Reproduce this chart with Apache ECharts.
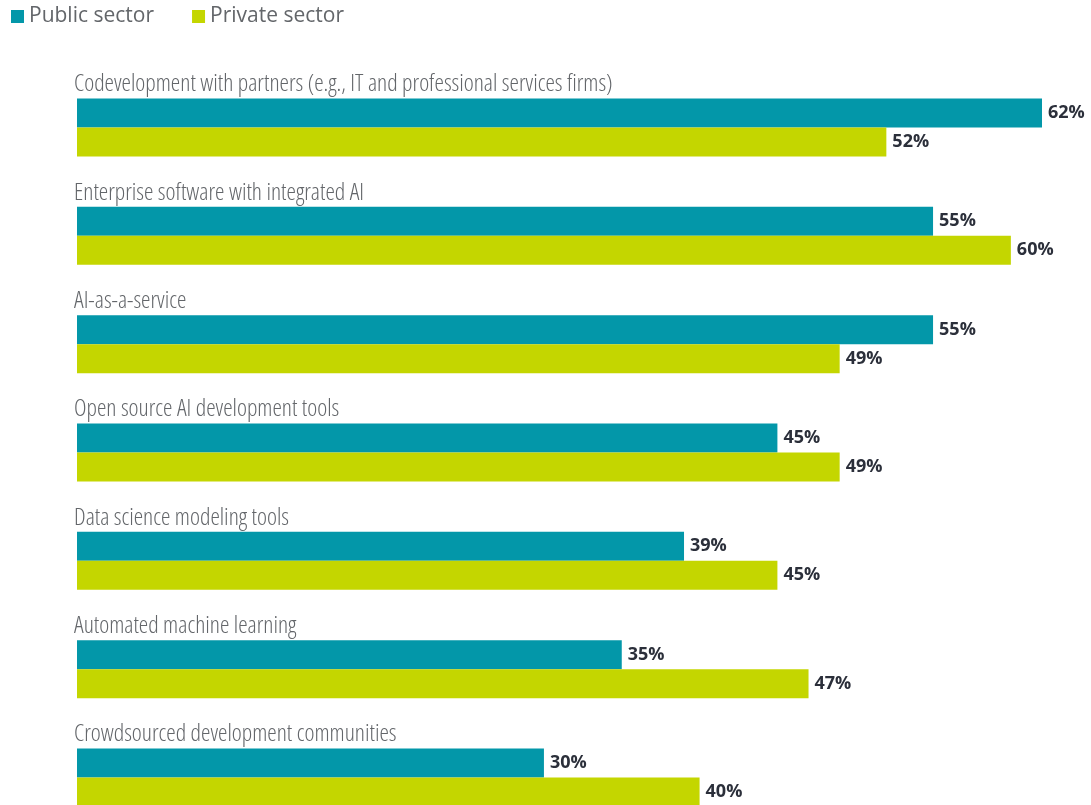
<!DOCTYPE html>
<html>
<head>
<meta charset="utf-8">
<script src="https://cdn.jsdelivr.net/npm/echarts@6/dist/echarts.min.js"></script>
<style>
  html, body { margin: 0; padding: 0; background: #fff; }
  #main { width: 1091px; height: 805px; }
</style>
</head>
<body>
<div id="main"></div>
<script>
// categories, top to bottom
var categories = [
  'Codevelopment with partners (e.g., IT and professional services firms)',
  'Enterprise software with integrated AI',
  'AI-as-a-service',
  'Open source AI development tools',
  'Data science modeling tools',
  'Automated machine learning',
  'Crowdsourced development communities'
];
var publicSector = [62, 55, 55, 45, 39, 35, 30];
var privateSector = [52, 60, 49, 49, 45, 47, 40];

var myChart = echarts.init(document.getElementById('main'));

var valueLabel = {
  show: true,
  position: 'right',
  distance: 6,
  formatter: '{c}%',
  fontFamily: 'Open Sans',
  fontWeight: 'bold',
  fontSize: 18,
  color: '#2b2f3a'
};

var option = {
  animation: false,
  legend: {
    left: 6,
    top: 1,
    icon: 'rect',
    itemWidth: 13,
    itemHeight: 13,
    itemGap: 38,
    textStyle: {
      fontFamily: 'Open Sans',
      fontSize: 21,
      color: '#63666a'
    },
    data: ['Public sector', 'Private sector']
  },
  grid: {
    left: 77,
    top: 127.5,
    width: 965,
    bottom: 27.5
  },
  xAxis: {
    type: 'value',
    min: 0,
    max: 62,
    show: false
  },
  yAxis: {
    type: 'category',
    inverse: true,
    boundaryGap: false,
    data: categories,
    axisLine: { show: false },
    axisTick: { show: false },
    axisLabel: {
      inside: true,
      margin: -3,
      verticalAlign: 'bottom',
      padding: [0, 0, 31, 0],
      fontFamily: 'Open Sans',
      fontStyle: 'normal',
      // condensed light cut, like the original typeface
      fontWeight: '300 condensed',
      fontSize: 23.8,
      color: '#63666a'
    }
  },
  series: [
    {
      name: 'Public sector',
      type: 'bar',
      data: publicSector,
      barWidth: 29,
      barGap: '0%',
      itemStyle: { color: '#0397a9' },
      label: valueLabel
    },
    {
      name: 'Private sector',
      type: 'bar',
      data: privateSector,
      barWidth: 29,
      barGap: '0%',
      itemStyle: { color: '#c4d600' },
      label: valueLabel
    }
  ]
};

option && myChart.setOption(option);
</script>
</body>
</html>
